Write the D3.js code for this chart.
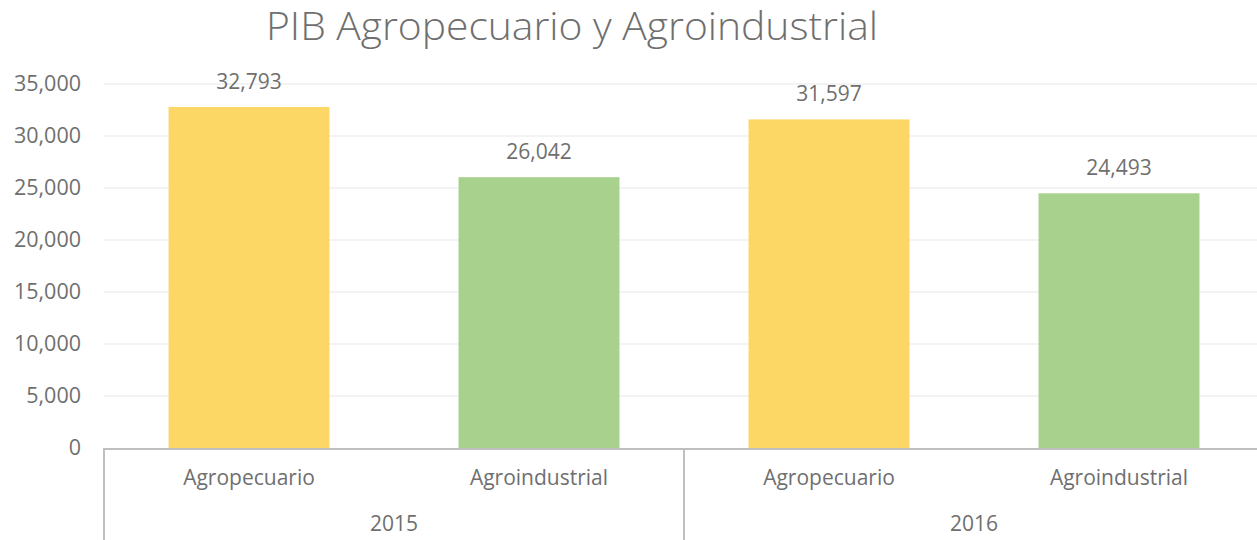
<!DOCTYPE html>
<html>
<head>
<meta charset="utf-8">
<script src="https://cdn.jsdelivr.net/npm/d3@7"></script>
<style>
  body { margin: 0; background: #fff; }
  svg { display: block; font-family: "Open Sans", sans-serif; }
</style>
</head>
<body>
<svg width="1257" height="540"></svg>
<script>
// data
var years = ['2015', '2016'];
var sectors = ['Agropecuario', 'Agroindustrial'];
var values2015 = [32793, 26042];
var values2016 = [31597, 24493];
var yTicks = [0, 5000, 10000, 15000, 20000, 25000, 30000, 35000];
var colors = ['#fdd766', '#a9d18e'];

var textColor = '#6f6f6f';
var svg = d3.select('svg');
var margin = { left: 104, top: 84, bottom: 448 };

// flatten into one row per bar
var rows = [];
[values2015, values2016].forEach(function (vals, i) {
  vals.forEach(function (v, j) {
    rows.push({ year: years[i], sector: sectors[j], value: v, key: years[i] + '|' + sectors[j], color: colors[j] });
  });
});

var x = d3.scaleBand()
  .domain(rows.map(function (d) { return d.key; }))
  .range([margin.left, margin.left + 290 * rows.length])
  .paddingInner(0.445)
  .paddingOuter(0.2225);

var y = d3.scaleLinear().domain([0, 35000]).range([margin.bottom, margin.top]);

// gridlines
svg.append('g')
  .selectAll('line')
  .data(yTicks.slice(1))
  .enter()
  .append('line')
  .attr('x1', margin.left)
  .attr('x2', 1257)
  .attr('y1', function (d) { return y(d); })
  .attr('y2', function (d) { return y(d); })
  .attr('stroke', '#efefef')
  .attr('stroke-width', 1.5);

// y axis labels
svg.append('g')
  .attr('transform', 'translate(' + (margin.left - 23) + ',0)')
  .call(d3.axisLeft(y).tickValues(yTicks).tickSize(0).tickPadding(0).tickFormat(d3.format(',')))
  .call(function (g) { g.select('.domain').remove(); })
  .selectAll('text')
  .attr('font-family', '"Open Sans", sans-serif')
  .attr('font-size', 21.5)
  .attr('fill', textColor);

// bars
svg.append('g')
  .selectAll('rect')
  .data(rows)
  .enter()
  .append('rect')
  .attr('x', function (d) { return x(d.key); })
  .attr('y', function (d) { return y(d.value); })
  .attr('width', x.bandwidth())
  .attr('height', function (d) { return y(0) - y(d.value); })
  .attr('fill', function (d) { return d.color; });

// value labels
svg.append('g')
  .selectAll('text')
  .data(rows)
  .enter()
  .append('text')
  .attr('x', function (d) { return x(d.key) + x.bandwidth() / 2; })
  .attr('y', function (d) { return y(d.value) - 18; })
  .attr('text-anchor', 'middle')
  .attr('font-size', 21)
  .attr('fill', textColor)
  .text(function (d) { return d3.format(',')(d.value); });

// category axis
var step = x.step();
var axisG = svg.append('g').attr('stroke', '#bfbfbf').attr('stroke-width', 2);
axisG.append('line')
  .attr('x1', margin.left)
  .attr('x2', 1257)
  .attr('y1', y(0) + 1)
  .attr('y2', y(0) + 1);
axisG.selectAll('.sep')
  .data([0, 2, 4])
  .enter()
  .append('line')
  .attr('x1', function (d) { return margin.left + d * step; })
  .attr('x2', function (d) { return margin.left + d * step; })
  .attr('y1', y(0))
  .attr('y2', 540);

svg.append('g')
  .selectAll('text')
  .data(rows)
  .enter()
  .append('text')
  .attr('x', function (d) { return x(d.key) + x.bandwidth() / 2; })
  .attr('y', 485)
  .attr('text-anchor', 'middle')
  .attr('font-size', 21)
  .attr('fill', textColor)
  .text(function (d) { return d.sector; });

svg.append('g')
  .selectAll('text')
  .data(years)
  .enter()
  .append('text')
  .attr('x', function (d, i) { return margin.left + (i * 2 + 1) * step; })
  .attr('y', 531)
  .attr('text-anchor', 'middle')
  .attr('font-size', 21)
  .attr('fill', textColor)
  .text(function (d) { return d; });

// title
svg.append('text')
  .attr('x', 572)
  .attr('y', 40)
  .attr('text-anchor', 'middle')
  .attr('font-size', 38)
  .attr('font-weight', 300)
  .attr('fill', '#6f6f6f')
  .attr('textLength', 612)
  .attr('lengthAdjust', 'spacingAndGlyphs')
  .text('PIB Agropecuario y Agroindustrial');
</script>
</body>
</html>
